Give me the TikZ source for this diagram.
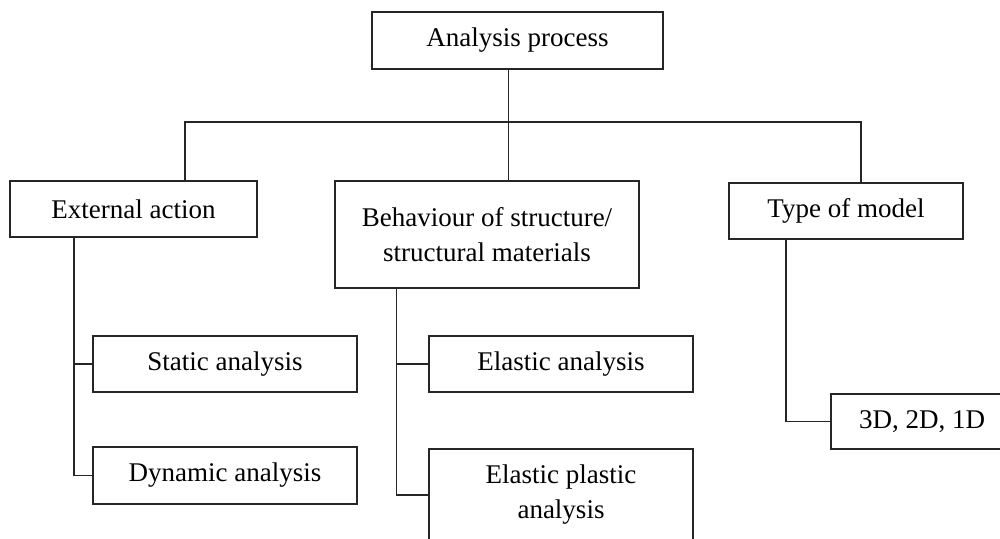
\documentclass[tikz,border=0pt]{standalone}
\usepackage{fontspec}
\setmainfont{Liberation Serif}
\usetikzlibrary{positioning, calc}
\definecolor{linegray}{HTML}{262626}

\begin{document}
\begin{tikzpicture}[
  x=0.5pt, y=-0.5pt,
  box/.style={draw=linegray, line width=0.9pt, inner sep=0pt, align=center,
              font=\fontsize{13.5}{17.5}\selectfont, minimum width=132pt,
              minimum height=28pt},
  link/.style={draw=linegray, line width=0.9pt},
]
  \useasboundingbox[fill=white] (0,0) rectangle (1000,539);
  \clip (0,0) rectangle (1000,539);

  % Root
  \node[box, minimum width=145.5pt, minimum height=28.5pt] (root)
    at (517.5,40.5) {Analysis process};

  % Three main branches
  \node[box, minimum width=123.5pt] (ext) at (133.5,209) {External action};
  \node[box, minimum width=152pt, minimum height=53.5pt] (beh)
    at (487,234.5) {Behaviour of structure/\\structural materials};
  \node[box, minimum width=117pt] (type) at (846,211) {Type of model};

  % Bus between root and branches
  \coordinate (busL) at (185,122);
  \coordinate (bus) at (508.5,122);
  \coordinate (busR) at (861,122);
  \draw[link] (bus |- root.south) -- (bus |- beh.north);
  \draw[link] (busL |- ext.north) -- (busL) -- (busR) -- (busR |- type.north);

  % Leaves of external action
  \node[box] (stat) at (225,364) {Static analysis};
  \node[box, minimum height=28.5pt] (dyn) at (225,475.5) {Dynamic analysis};
  \coordinate (extstem) at (74,0);
  \draw[link] (extstem |- ext.south) |- (stat.west);
  \draw[link] (extstem |- ext.south) |- (dyn.west);

  % Leaves of behaviour
  \node[box] (ela) at (561,364) {Elastic analysis};
  \node[box, minimum height=46pt] (elp) at (561,495)
    {Elastic plastic\\analysis};
  \coordinate (behstem) at (396.5,0);
  \draw[link] (behstem |- beh.south) |- (ela.west);
  \draw[link] (behstem |- beh.south) |- (elp.west);

  % Leaf of type of model
  \node[box, minimum width=91pt, minimum height=27.5pt] (dims)
    at (922,421.5) {3D, 2D, 1D};
  \coordinate (typestem) at (786,0);
  \draw[link] (typestem |- type.south) |- (dims.west);
\end{tikzpicture}
\end{document}
